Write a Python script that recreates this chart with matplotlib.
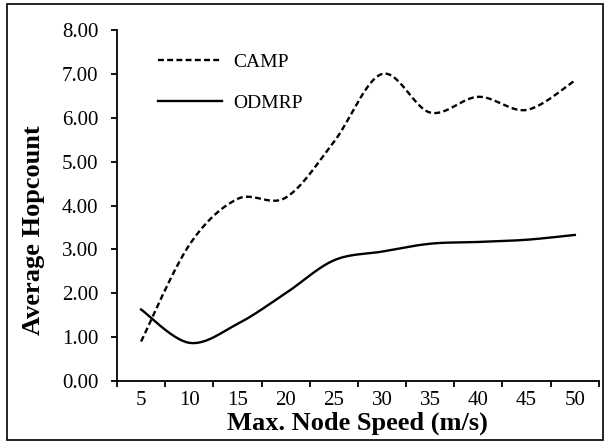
import numpy as np
import matplotlib.pyplot as plt
from matplotlib.patches import Rectangle

plt.rcParams["font.family"] = ["Liberation Serif", "DejaVu Serif"]

speeds = [5, 10, 15, 20, 25, 30, 35, 40, 45, 50]
camp = [0.90, 3.10, 4.15, 4.18, 5.45, 7.00, 6.12, 6.48, 6.18, 6.85]
odmrp = [1.63, 0.87, 1.30, 2.00, 2.75, 2.95, 3.13, 3.17, 3.22, 3.33]


def smooth(x, y, n=30):
    """Catmull-Rom style curve through the points, like Excel's smoothed line."""
    p = np.column_stack([x, y]).astype(float)
    p = np.vstack([p[0], p, p[-1]])
    out = []
    t = np.linspace(0, 1, n)[:, None]
    for i in range(1, len(p) - 2):
        p0, p1, p2, p3 = p[i - 1], p[i], p[i + 1], p[i + 2]
        c1 = p1 + (p2 - p0) / 6
        c2 = p2 - (p3 - p1) / 6
        seg = ((1 - t) ** 3) * p1 + 3 * ((1 - t) ** 2) * t * c1 \
            + 3 * (1 - t) * t ** 2 * c2 + t ** 3 * p2
        out.append(seg if i == 1 else seg[1:])
    out = np.vstack(out)
    return out[:, 0], out[:, 1]


fig = plt.figure(figsize=(6.08, 4.43), dpi=100)
ax = fig.add_axes([0.1924, 0.140, 0.7926, 0.792])

xi = np.arange(len(speeds))
cx, cy = smooth(xi, camp)
ox, oy = smooth(xi, odmrp)
ax.plot(cx, cy, color="black", lw=1.7, linestyle=(0, (2.5, 1.4)), label="CAMP")
ax.plot(ox, oy, color="black", lw=1.7, label="ODMRP")

ax.set_xlim(-0.5, len(speeds) - 0.5)
ax.set_ylim(0, 8)
ax.set_yticks(np.arange(0, 9, 1))
ax.set_yticklabels([f"{v:.2f}" for v in np.arange(0, 9, 1)])
ax.set_xticks(np.arange(-0.5, len(speeds), 1))
ax.set_xticklabels([])
ax.set_xticks(xi, minor=True)
ax.set_xticklabels([str(s) for s in speeds], minor=True)
ax.tick_params(axis="x", which="minor", length=0, pad=7.5, labelsize=15)
ax.tick_params(axis="x", which="major", length=4.5, width=1.3, direction="out")
ax.tick_params(axis="y", length=4.5, width=1.3, direction="out", labelsize=15, pad=9)

for s in ("top", "right"):
    ax.spines[s].set_visible(False)
for s in ("left", "bottom"):
    ax.spines[s].set_linewidth(1.3)

ax.set_xlabel("Max. Node Speed (m/s)", fontsize=19, fontweight="bold", labelpad=1)
ax.set_ylabel("Average Hopcount", fontsize=19, fontweight="bold")
ax.yaxis.set_label_coords(-0.15, 0.43)

ax.legend(loc="upper left", bbox_to_anchor=(0.085, 0.933), frameon=False,
          borderpad=0, borderaxespad=0,
          fontsize=14, handlelength=3.3, labelspacing=1.2, handletextpad=0.55)

fig.patches.append(Rectangle((0.0115, 0.007), 0.98, 0.984, transform=fig.transFigure,
                             fill=False, edgecolor="black", lw=1.2))

fig.savefig("out.png", dpi=100)
